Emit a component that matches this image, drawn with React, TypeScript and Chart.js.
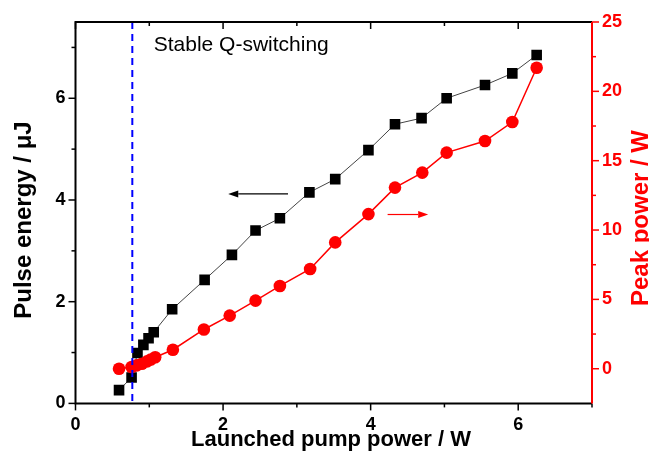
import React, { useEffect, useRef } from 'react';
import { Chart, registerables } from 'chart.js';

Chart.register(...registerables);

// ---- data ----
const energyPumpPower = [0.59, 0.76, 0.84, 0.92, 0.99, 1.06, 1.31, 1.75, 2.12, 2.44, 2.77, 3.17, 3.52, 3.97, 4.33, 4.69, 5.03, 5.55, 5.92, 6.25];
const pulseEnergy = [0.26, 0.51, 0.99, 1.15, 1.28, 1.40, 1.85, 2.43, 2.92, 3.40, 3.64, 4.15, 4.41, 4.98, 5.49, 5.61, 6.00, 6.26, 6.49, 6.85];
const peakPumpPower = [0.59, 0.76, 0.83, 0.90, 0.97, 1.02, 1.08, 1.32, 1.74, 2.09, 2.44, 2.77, 3.18, 3.52, 3.97, 4.33, 4.70, 5.03, 5.55, 5.92, 6.25];
const peakPower = [0.0, 0.12, 0.24, 0.36, 0.53, 0.67, 0.83, 1.37, 2.83, 3.83, 4.91, 5.97, 7.19, 9.11, 11.15, 13.06, 14.14, 15.58, 16.42, 17.79, 21.70];

const xMajorTicks = [0, 2, 4, 6];
const xMinorTicks = [1, 3, 5, 7];
const yMajorTicks = [0, 2, 4, 6];
const yMinorTicks = [1, 3, 5, 7];
const y2MajorTicks = [0, 5, 10, 15, 20, 25];
const y2MinorTicks = [2.5, 7.5, 12.5, 17.5, 22.5];

const thresholdPower = 0.77;
const annotationText = 'Stable Q-switching';
const annotationPos = [1.06, 7.05];
const blackArrow = [2.88, 2.07, 4.12]; // from x, to x, at y (left axis)
const redArrow = [4.23, 4.78, 11.12]; // from x, to x, at y (right axis)

const xTitle = 'Launched pump power / W';
const yTitle = 'Pulse energy / \u03bcJ';
const y2Title = 'Peak power / W';

const FONT = "'Liberation Sans', Arial, sans-serif";
const RED = '#FF0000';

function arrow(ctx: CanvasRenderingContext2D, x1: number, x2: number, y: number, color: string, lw: number) {
  const dir = Math.sign(x2 - x1);
  const headLen = 10;
  const headHalf = 3.5;
  ctx.strokeStyle = color;
  ctx.fillStyle = color;
  ctx.lineWidth = lw;
  ctx.beginPath();
  ctx.moveTo(x1, y);
  ctx.lineTo(x2 - dir * headLen, y);
  ctx.stroke();
  ctx.beginPath();
  ctx.moveTo(x2, y);
  ctx.lineTo(x2 - dir * headLen, y - headHalf);
  ctx.lineTo(x2 - dir * headLen, y + headHalf);
  ctx.closePath();
  ctx.fill();
}

const decorPlugin = {
  id: 'decor',
  afterDatasetsDraw(chart: any) {
    const { ctx, chartArea: a, scales } = chart;
    const x = scales.x, y = scales.y, y2 = scales.y2;
    ctx.save();

    // threshold dashed line
    const bx = x.getPixelForValue(thresholdPower);
    ctx.strokeStyle = '#0000FF';
    ctx.lineWidth = 2;
    ctx.setLineDash([7, 5]);
    ctx.beginPath();
    ctx.moveTo(bx, a.top);
    ctx.lineTo(bx, a.bottom);
    ctx.stroke();
    ctx.setLineDash([]);

    // frame
    ctx.lineWidth = 2;
    ctx.strokeStyle = '#000';
    ctx.beginPath();
    ctx.moveTo(a.right, a.top);
    ctx.lineTo(a.left, a.top);
    ctx.lineTo(a.left, a.bottom);
    ctx.lineTo(a.right, a.bottom);
    ctx.stroke();

    ctx.lineWidth = 1.5;
    const tick = (x1: number, y1: number, x2: number, y2p: number) => {
      ctx.beginPath();
      ctx.moveTo(x1, y1);
      ctx.lineTo(x2, y2p);
      ctx.stroke();
    };
    xMajorTicks.forEach((v) => {
      const px = x.getPixelForValue(v);
      tick(px, a.bottom, px, a.bottom + 7);
      tick(px, a.top, px, a.top + 7);
    });
    xMinorTicks.forEach((v) => {
      const px = x.getPixelForValue(v);
      tick(px, a.bottom, px, a.bottom + 4);
      tick(px, a.top, px, a.top + 4);
    });
    yMajorTicks.forEach((v) => {
      const py = y.getPixelForValue(v);
      tick(a.left, py, a.left - 7, py);
    });
    yMinorTicks.forEach((v) => {
      const py = y.getPixelForValue(v);
      tick(a.left, py, a.left - 4, py);
    });

    ctx.strokeStyle = RED;
    ctx.lineWidth = 2;
    tick(a.right, a.top, a.right, a.bottom);
    ctx.lineWidth = 1.5;
    y2MajorTicks.forEach((v) => {
      const py = y2.getPixelForValue(v);
      tick(a.right, py, a.right + 7, py);
    });
    y2MinorTicks.forEach((v) => {
      const py = y2.getPixelForValue(v);
      tick(a.right, py, a.right + 4, py);
    });

    // arrows
    arrow(ctx, x.getPixelForValue(blackArrow[0]), x.getPixelForValue(blackArrow[1]), y.getPixelForValue(blackArrow[2]), '#000', 1.2);
    arrow(ctx, x.getPixelForValue(redArrow[0]), x.getPixelForValue(redArrow[1]), y2.getPixelForValue(redArrow[2]), RED, 1.2);

    // annotation text
    ctx.fillStyle = '#000';
    ctx.font = `21px ${FONT}`;
    ctx.textAlign = 'left';
    ctx.textBaseline = 'middle';
    ctx.fillText(annotationText, x.getPixelForValue(annotationPos[0]), y.getPixelForValue(annotationPos[1]));

    // axis titles
    ctx.font = `bold 22px ${FONT}`;
    ctx.textAlign = 'center';
    ctx.textBaseline = 'middle';
    ctx.fillStyle = '#000';
    ctx.fillText(xTitle, 331, 440);

    ctx.save();
    ctx.font = `bold 24px ${FONT}`;
    ctx.textBaseline = 'alphabetic';
    ctx.translate(31, 220);
    ctx.rotate(-Math.PI / 2);
    ctx.fillText(yTitle, 0, 0);
    ctx.restore();

    ctx.save();
    ctx.font = `bold 24px ${FONT}`;
    ctx.textBaseline = 'alphabetic';
    ctx.fillStyle = RED;
    ctx.translate(648, 218);
    ctx.rotate(-Math.PI / 2);
    ctx.fillText(y2Title, 0, 0);
    ctx.restore();

    ctx.restore();
  },
};

export default function App() {
  const ref = useRef<HTMLCanvasElement | null>(null);

  useEffect(() => {
    if (!ref.current) return;
    const tickFont = { family: FONT, size: 18, weight: 'bold' as const };
    const chart = new Chart(ref.current, {
      type: 'line',
      data: {
        datasets: [
          {
            label: 'Pulse energy',
            data: energyPumpPower.map((v, i) => ({ x: v, y: pulseEnergy[i] })),
            yAxisID: 'y',
            borderColor: '#444',
            borderWidth: 1,
            pointStyle: 'rect',
            pointRadius: 7.5,
            pointBackgroundColor: '#000',
            pointBorderWidth: 0,
            order: 2,
          },
          {
            label: 'Peak power',
            data: peakPumpPower.map((v, i) => ({ x: v, y: peakPower[i] })),
            yAxisID: 'y2',
            borderColor: RED,
            borderWidth: 1.5,
            pointStyle: 'circle',
            pointRadius: 6.3,
            pointBackgroundColor: RED,
            pointBorderWidth: 0,
            order: 1,
          },
        ],
      },
      options: {
        animation: false,
        responsive: false,
        devicePixelRatio: 1,
        layout: { padding: { top: 22, left: 0, right: 0, bottom: 0 } },
        plugins: { legend: { display: false }, tooltip: { enabled: false } },
        scales: {
          x: {
            type: 'linear',
            position: 'bottom',
            min: 0,
            max: 7,
            grid: { display: false, drawTicks: false },
            border: { display: false },
            ticks: { font: tickFont, color: '#000', padding: 11 },
            afterBuildTicks: (s: any) => { s.ticks = xMajorTicks.map((v) => ({ value: v })); },
            afterFit: (s: any) => { s.height = 54.6; },
          },
          y: {
            type: 'linear',
            position: 'left',
            min: 0,
            max: 7.5,
            grid: { display: false, drawTicks: false },
            border: { display: false },
            ticks: { font: tickFont, color: '#000', padding: 10 },
            afterBuildTicks: (s: any) => { s.ticks = yMajorTicks.map((v) => ({ value: v })); },
            afterFit: (s: any) => { s.width = 75.5; },
          },
          y2: {
            type: 'linear',
            position: 'right',
            min: -2.5,
            max: 25,
            grid: { display: false, drawTicks: false },
            border: { display: false },
            ticks: { font: tickFont, color: RED, padding: 10 },
            afterBuildTicks: (s: any) => { s.ticks = y2MajorTicks.map((v) => ({ value: v })); },
            afterFit: (s: any) => { s.width = 57; },
          },
        },
      },
      plugins: [decorPlugin],
    });
    return () => chart.destroy();
  }, []);

  return (
    <div style={{ position: 'fixed', left: 0, top: 0, width: 649, height: 458, background: '#fff' }}>
      <canvas ref={ref} width={649} height={458} style={{ width: 649, height: 458, display: 'block' }} />
    </div>
  );
}
